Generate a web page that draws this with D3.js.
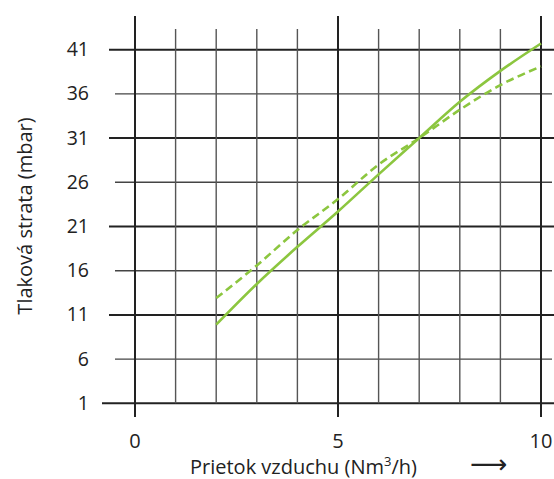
<!DOCTYPE html>
<html>
<head>
<meta charset="utf-8">
<script src="https://cdn.jsdelivr.net/npm/d3@7"></script>
<style>
  body { margin: 0; background: #fff; }
  svg { display: block; }
</style>
</head>
<body>
<div id="chart"></div>
<script>
// Pressure loss vs air flow

const flowValues = [2, 3, 4, 5, 6, 7, 8, 9, 10];
const lossSolid  = [9.9, 14.5, 18.7, 22.7, 26.9, 31.0, 35.1, 38.6, 41.7];
const lossDashed = [12.9, 16.6, 20.6, 24.1, 28.0, 31.0, 34.2, 37.0, 39.1];

const yTicks = [1, 6, 11, 16, 21, 26, 31, 36, 41];
const yMajor = [1, 11, 21, 31, 41];
const xGrid  = [0, 1, 2, 3, 4, 5, 6, 7, 8, 9, 10];
const xMajor = [0, 5, 10];
const xTickLabels = [0, 5, 10];

const width = 554, height = 479;
const font = "'Open Sans', 'Noto Sans', sans-serif";
const green = "#8cc63f";

const svg = d3.select("#chart").append("svg")
    .attr("width", width)
    .attr("height", height);

const x = d3.scaleLinear().domain([0, 10]).range([135, 541]);
const y = d3.scaleLinear().domain([1, 41]).range([403.3, 49.7]);

// horizontal grid
const hGrid = svg.append("g");
yTicks.forEach(v => {
    const major = yMajor.includes(v);
    hGrid.append("line")
        .attr("x1", v === 1 ? 102 : (major ? 109 : 115))
        .attr("x2", major ? 554 : 552)
        .attr("y1", y(v)).attr("y2", y(v))
        .attr("stroke", major ? "#222" : "#444")
        .attr("stroke-width", major ? 2 : 1.4);
});

// vertical grid
const vGrid = svg.append("g");
xGrid.forEach(v => {
    const major = xMajor.includes(v);
    vGrid.append("line")
        .attr("x1", x(v)).attr("x2", x(v))
        .attr("y1", major ? 16 : 29)
        .attr("y2", major ? 417 : y(1))
        .attr("stroke", major ? "#222" : "#555")
        .attr("stroke-width", major ? 2 : 1.4);
});

// tick labels
svg.append("g").selectAll("text")
    .data(yTicks)
    .join("text")
    .attr("x", 89)
    .attr("y", d => y(d) - 1)
    .attr("text-anchor", "end")
    .attr("dominant-baseline", "central")
    .style("font-family", font)
    .style("font-size", "19.5px")
    .attr("fill", "#222")
    .text(d => d);

svg.append("g").selectAll("text")
    .data(xTickLabels)
    .join("text")
    .attr("x", d => x(d))
    .attr("y", 448)
    .attr("text-anchor", "middle")
    .style("font-family", font)
    .style("font-size", "20px")
    .attr("fill", "#222")
    .text(d => d);

// data lines
const line = d3.line()
    .x((d, i) => x(flowValues[i]))
    .y(d => y(d))
    .curve(d3.curveMonotoneX);

svg.append("path")
    .datum(lossDashed)
    .attr("d", line)
    .attr("fill", "none")
    .attr("stroke", green)
    .attr("stroke-width", 2.6)
    .attr("stroke-dasharray", "8,4.5");

svg.append("path")
    .datum(lossSolid)
    .attr("d", line)
    .attr("fill", "none")
    .attr("stroke", green)
    .attr("stroke-width", 2.6);

// axis titles
svg.append("text")
    .attr("transform", "translate(32,216) rotate(-90)")
    .attr("text-anchor", "middle")
    .style("font-family", font)
    .style("font-size", "20px")
    .attr("fill", "#222")
    .text("Tlaková strata (mbar)");

const xTitle = svg.append("text")
    .attr("x", 190)
    .attr("y", 474)
    .style("font-family", font)
    .style("font-size", "20px")
    .attr("fill", "#222");
xTitle.append("tspan").text("Prietok vzduchu (Nm");
xTitle.append("tspan").attr("dy", -8).style("font-size", "13px").text("3");
xTitle.append("tspan").attr("dy", 8).text("/h)");

svg.append("text")
    .attr("x", 470)
    .attr("y", 473)
    .style("font-family", "'DejaVu Sans', sans-serif")
    .style("font-size", "26px")
    .attr("fill", "#222")
    .text("⟶");
</script>
</body>
</html>
